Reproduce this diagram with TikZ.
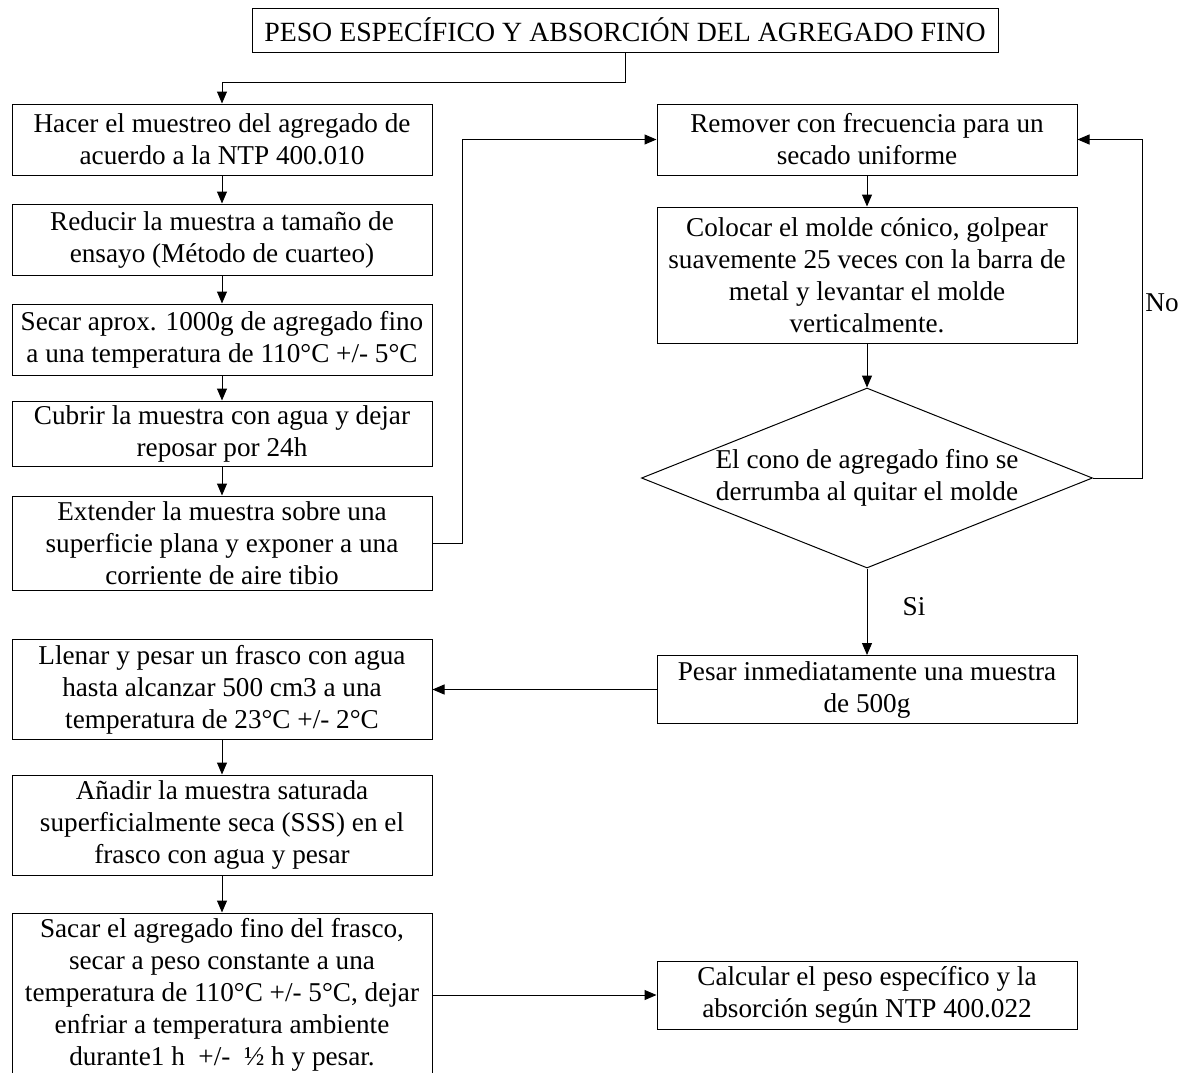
\documentclass[tikz,border=0pt]{standalone}
\usepackage{fontspec}
\setmainfont{Liberation Serif}
\usetikzlibrary{positioning,shapes.geometric,arrows.meta}

\begin{document}
\begin{tikzpicture}[
x=0.5pt, y=-0.5pt,
font=\fontsize{13.6}{16}\selectfont,
paso/.style={draw, line width=0.5pt, align=center, minimum width=210pt, inner sep=0pt},
decision/.style={draw, diamond, aspect=2.5, line width=0.5pt, align=center,
  minimum width=225.5pt, minimum height=90pt, inner sep=0pt},
flecha/.style={line width=0.5pt, -{Triangle[length=6pt,width=5pt]}},
linea/.style={line width=0.5pt},]
\useasboundingbox (0,0) rectangle (1183,1072);

\node[paso, minimum width=373pt, minimum height=22pt, font=\fontsize{13.9}{16}\selectfont] (titulo) at (625,30)
  {PESO ESPECÍFICO Y ABSORCIÓN DEL AGREGADO FINO};

\node[paso, minimum height=35.5pt] (muestreo) at (222,139.5)
  {Hacer el muestreo del agregado de\\acuerdo a la NTP 400.010};
\node[paso, minimum height=35.5pt] (reducir) at (222,239.5)
  {Reducir la muestra a tamaño de\\ensayo (Método de cuarteo)};
\node[paso, minimum height=35.5pt] (secar) at (222,339.5)
  {Secar aprox. 1000g de agregado fino\\a una temperatura de 110°C +/- 5°C};
\node[paso, minimum height=32.5pt] (cubrir) at (222,433.5)
  {Cubrir la muestra con agua y dejar\\reposar por 24h};
\node[paso, minimum height=47pt] (extender) at (222,543)
  {Extender la muestra sobre una\\superficie plana y exponer a una\\corriente de aire tibio};
\node[paso, minimum height=50pt] (llenar) at (222,689.5)
  {Llenar y pesar un frasco con agua\\hasta alcanzar 500 cm3 a una\\temperatura de 23°C +/- 2°C};
\node[paso, minimum height=50pt] (anadir) at (222,825)
  {Añadir la muestra saturada\\superficialmente seca (SSS) en el\\frasco con agua y pesar};
\node[paso, minimum height=82pt] (sacar) at (222,995)
  {Sacar el agregado fino del frasco,\\secar a peso constante a una\\temperatura de 110°C +/- 5°C, dejar\\enfriar a temperatura ambiente\\durante1 h\ \ +/-\ \ ½ h y pesar.};

\node[paso, minimum height=35.5pt] (remover) at (867,139.5)
  {Remover con frecuencia para un\\secado uniforme};
\node[paso, minimum height=68pt] (colocar) at (867,275)
  {Colocar el molde cónico, golpear\\suavemente 25 veces con la barra de\\metal y levantar el molde\\verticalmente.};
\node[decision] (cono) at (867,478)
  {El cono de agregado fino se\\derrumba al quitar el molde};
\node[paso, minimum height=34pt] (pesar) at (867,689.5)
  {Pesar inmediatamente una muestra\\de 500g};
\node[paso, minimum height=34pt] (calcular) at (867,995)
  {Calcular el peso específico y la\\absorción según NTP 400.022};

\node (si) at (914,607) {Si};
\node (no) at (1162,303) {No};

\draw[flecha] (titulo.south) -- ++(0,30) -| (muestreo.north);
\draw[flecha] (muestreo.south) -- (reducir.north);
\draw[flecha] (reducir.south) -- (secar.north);
\draw[flecha] (secar.south) -- (cubrir.north);
\draw[flecha] (cubrir.south) -- (extender.north);
\draw[flecha] (extender.east) -- ++(30,0) |- (remover.west);
\draw[flecha] (remover.south) -- (colocar.north);
\draw[flecha] (colocar.south) -- (cono.north);
\draw[flecha] (cono.south) -- (pesar.north);
\draw[flecha] (cono.east) -- ++(49,0) |- (remover.east);
\draw[flecha] (pesar.west) -- (llenar.east);
\draw[flecha] (llenar.south) -- (anadir.north);
\draw[flecha] (anadir.south) -- (sacar.north);
\draw[flecha] (sacar.east) -- (calcular.west);
\end{tikzpicture}
\end{document}
